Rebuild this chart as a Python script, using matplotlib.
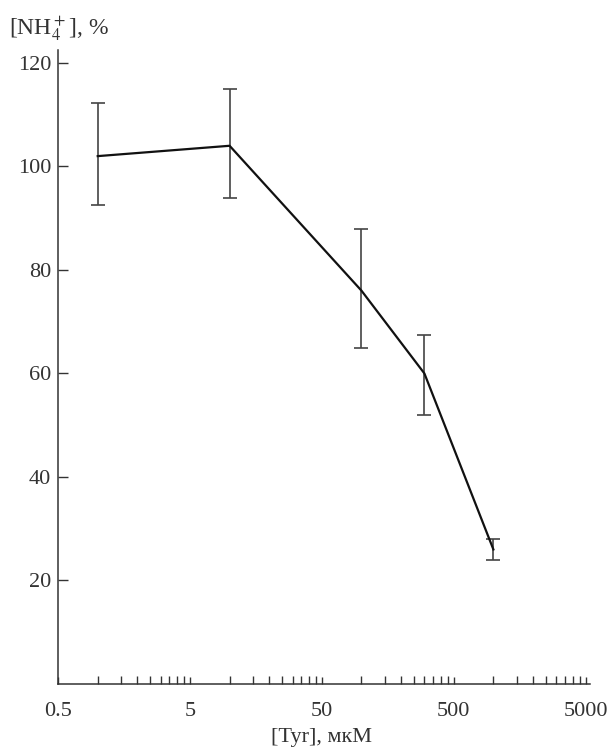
import matplotlib
matplotlib.use("Agg")
import matplotlib.pyplot as plt
from matplotlib.ticker import FixedLocator, NullFormatter

# данные: концентрация Tyr (мкМ) и [NH4+] (%)
tyr_conc = [1, 10, 100, 300, 1000]
nh4_mean = [102, 104, 76, 60, 26]
err_upper = [112.3, 115, 88, 67.5, 28]
err_lower = [92.5, 94, 65, 52, 24]

x_ticks = [0.5, 5, 50, 500, 5000]
x_tick_labels = ["0.5", "5", "50", "500", "5000"]
y_ticks = [20, 40, 60, 80, 100, 120]

plt.rcParams["font.family"] = ["Liberation Serif", "DejaVu Serif"]
plt.rcParams["mathtext.fontset"] = "stix"

ink = "#333333"

fig = plt.figure(figsize=(6.12, 7.49), dpi=100)
ax = fig.add_axes([0.0948, 0.0868, 0.8692, 0.8464])

yerr = [[m - lo for m, lo in zip(nh4_mean, err_lower)],
        [hi - m for m, hi in zip(nh4_mean, err_upper)]]
ax.errorbar(tyr_conc, nh4_mean, yerr=yerr, fmt="none", ecolor="#444444",
            elinewidth=1.2, capsize=4.8, capthick=1.2)
ax.plot(tyr_conc, nh4_mean, "-", color="#111111", lw=1.6)

ax.set_xscale("log")
ax.set_xlim(0.5, 5400)
ax.set_ylim(0, 122.5)

ax.xaxis.set_major_locator(FixedLocator(x_ticks))
ax.set_xticklabels(x_tick_labels)
minor = [0.5 * k * 10 ** n for n in range(4) for k in range(2, 10)]
ax.xaxis.set_minor_locator(FixedLocator(minor))
ax.xaxis.set_minor_formatter(NullFormatter())
ax.set_yticks(y_ticks)

for s in ("top", "right"):
    ax.spines[s].set_visible(False)
for s in ("left", "bottom"):
    ax.spines[s].set_color(ink)
    ax.spines[s].set_linewidth(1.1)

ax.tick_params(axis="y", direction="in", length=7, width=1, color=ink,
               labelsize=16, labelcolor=ink, pad=5)
ax.tick_params(axis="x", which="major", direction="in", length=5, width=1,
               color=ink, labelsize=16, labelcolor=ink, pad=13)
ax.tick_params(axis="x", which="minor", direction="in", length=6, width=1,
               color=ink)

fig.text(0.015, 0.955, r"[NH$_4^+$], %", fontsize=17, color=ink,
         ha="left", va="baseline")
fig.text(0.525, 0.010, "[Tyr], мкМ", fontsize=16, color=ink,
         ha="center", va="baseline")

fig.savefig("out.png", dpi=100)
